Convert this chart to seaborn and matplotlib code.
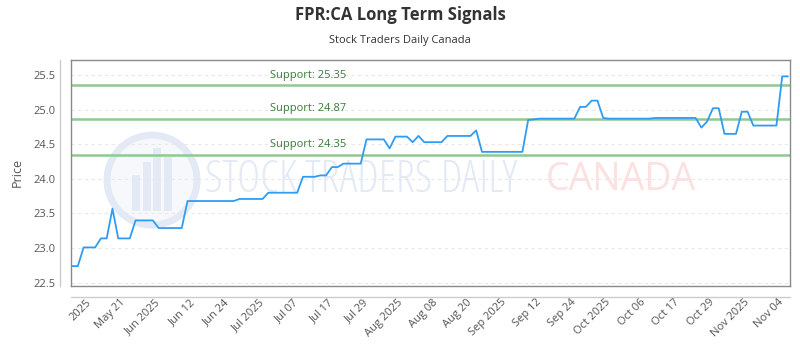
import numpy as np
import pandas as pd
import matplotlib
matplotlib.use("Agg")
import matplotlib.pyplot as plt
import seaborn as sns
from matplotlib.patches import Ellipse, Rectangle
from matplotlib.lines import Line2D

# price by trading session (index 0..124)
prices = [
    22.74, 22.74, 23.01, 23.01, 23.01, 23.14, 23.14, 23.57, 23.14, 23.14,
    23.14, 23.40, 23.40, 23.40, 23.40, 23.29, 23.29, 23.29, 23.29, 23.29,
    23.68, 23.68, 23.68, 23.68, 23.68, 23.68, 23.68, 23.68, 23.68, 23.71,
    23.71, 23.71, 23.71, 23.71, 23.80, 23.80, 23.80, 23.80, 23.80, 23.80,
    24.03, 24.03, 24.03, 24.05, 24.05, 24.17, 24.17, 24.22, 24.22, 24.22,
    24.22, 24.57, 24.57, 24.57, 24.57, 24.44, 24.61, 24.61, 24.61, 24.53,
    24.62, 24.53, 24.53, 24.53, 24.53, 24.62, 24.62, 24.62, 24.62, 24.62,
    24.70, 24.39, 24.39, 24.39, 24.39, 24.39, 24.39, 24.39, 24.39, 24.85,
    24.86, 24.87, 24.87, 24.87, 24.87, 24.87, 24.87, 24.87, 25.04, 25.04,
    25.13, 25.13, 24.88, 24.87, 24.87, 24.87, 24.87, 24.87, 24.87, 24.87,
    24.87, 24.88, 24.88, 24.88, 24.88, 24.88, 24.88, 24.88, 24.88, 24.74,
    24.83, 25.02, 25.02, 24.65, 24.65, 24.65, 24.97, 24.97, 24.77, 24.77,
    24.77, 24.77, 24.77, 25.48, 25.48,
]

tick_labels = [
    "2025", "May 21", "Jun 2025", "Jun 12", "Jun 24", "Jul 2025", "Jul 07",
    "Jul 17", "Jul 29", "Aug 2025", "Aug 08", "Aug 20", "Sep 2025", "Sep 12",
    "Sep 24", "Oct 2025", "Oct 06", "Oct 17", "Oct 29", "Nov 2025", "Nov 04",
]
tick_pos = [3 + 6 * k for k in range(len(tick_labels))]

support_levels = [25.35, 24.87, 24.35]
y_ticks = [22.5, 23.0, 23.5, 24.0, 24.5, 25.0, 25.5]

df = pd.DataFrame({"session": np.arange(len(prices)), "price": prices})

sns.set_style("white")
plt.rcParams["font.family"] = ["Open Sans", "DejaVu Sans"]

fig = plt.figure(figsize=(8, 3.5), dpi=100)
ax = fig.add_axes([0.0884, 0.1837, 0.8991, 0.6449])

# watermark
wm_blue = "#e3eaf5"
ax.add_patch(Ellipse((0.113, 0.468), 90 / 719.3, 90 / 225.7, transform=ax.transAxes,
                     facecolor="#f6f8fc", edgecolor=wm_blue, lw=5, zorder=0))
for bx, bh in [(0.085, 0.16), (0.100, 0.22), (0.115, 0.28), (0.130, 0.24)]:
    ax.add_patch(Rectangle((bx, 0.33), 0.011, bh, transform=ax.transAxes,
                           facecolor=wm_blue, edgecolor="none", zorder=0))
ax.text(0.187, 0.468, "STOCK TRADERS DAILY", transform=ax.transAxes, fontsize=32,
        color=wm_blue, va="center", ha="left", fontstretch="condensed", zorder=0)
ax.text(0.66, 0.468, "CANADA", transform=ax.transAxes, fontsize=27,
        color="#fde0e0", va="center", ha="left", zorder=0)

for yv in y_ticks:
    ax.axhline(yv, color="#e8e8e8", lw=0.8, ls=(0, (3, 3)), zorder=1)

for lvl in support_levels:
    ax.axhline(lvl, color="#8fc98f", lw=1.8, zorder=2)
    ax.annotate(f"Support: {lvl:.2f}", xy=(34.3, lvl), xytext=(0, 3),
                textcoords="offset points", color="#3a7a3a", fontsize=8,
                ha="left", va="bottom", zorder=3)

sns.lineplot(data=df, x="session", y="price", color="#2f9cf4", lw=1.3, ax=ax, zorder=4)

ax.set_xlim(-0.23, 124.35)
ax.set_ylim(22.457, 25.717)
ax.set_yticks(y_ticks)
ax.set_yticklabels([f"{v:.1f}" for v in y_ticks])
ax.set_xticks(tick_pos)
ax.set_xticklabels(tick_labels, rotation=45, ha="right", va="center",
                   rotation_mode="anchor")
ax.tick_params(axis="both", length=0, labelsize=8, labelcolor="#555555")
ax.tick_params(axis="y", pad=11)
ax.tick_params(axis="x", pad=11)
ax.set_xlabel("")
ax.set_ylabel("Price", fontsize=9, color="#555555", labelpad=7)

for s in ax.spines.values():
    s.set_visible(True)
    s.set_color("#8a8a8a")
    s.set_linewidth(1)

# separate axis lines outside the frame
ax.add_line(Line2D([0, 1], [-0.0487, -0.0487], transform=ax.transAxes,
                   color="#cccccc", lw=1, clip_on=False))
ax.add_line(Line2D([-0.0149, -0.0149], [0, 1], transform=ax.transAxes,
                   color="#cccccc", lw=1, clip_on=False))

fig.text(0.5, 1 - 15 / 350, "FPR:CA Long Term Signals", ha="center", va="center",
         fontsize=12, fontweight="bold", color="#333333")
fig.text(0.5, 1 - 40 / 350, "Stock Traders Daily Canada", ha="center", va="center",
         fontsize=8, color="#333333")

fig.savefig("out.png", dpi=100)
